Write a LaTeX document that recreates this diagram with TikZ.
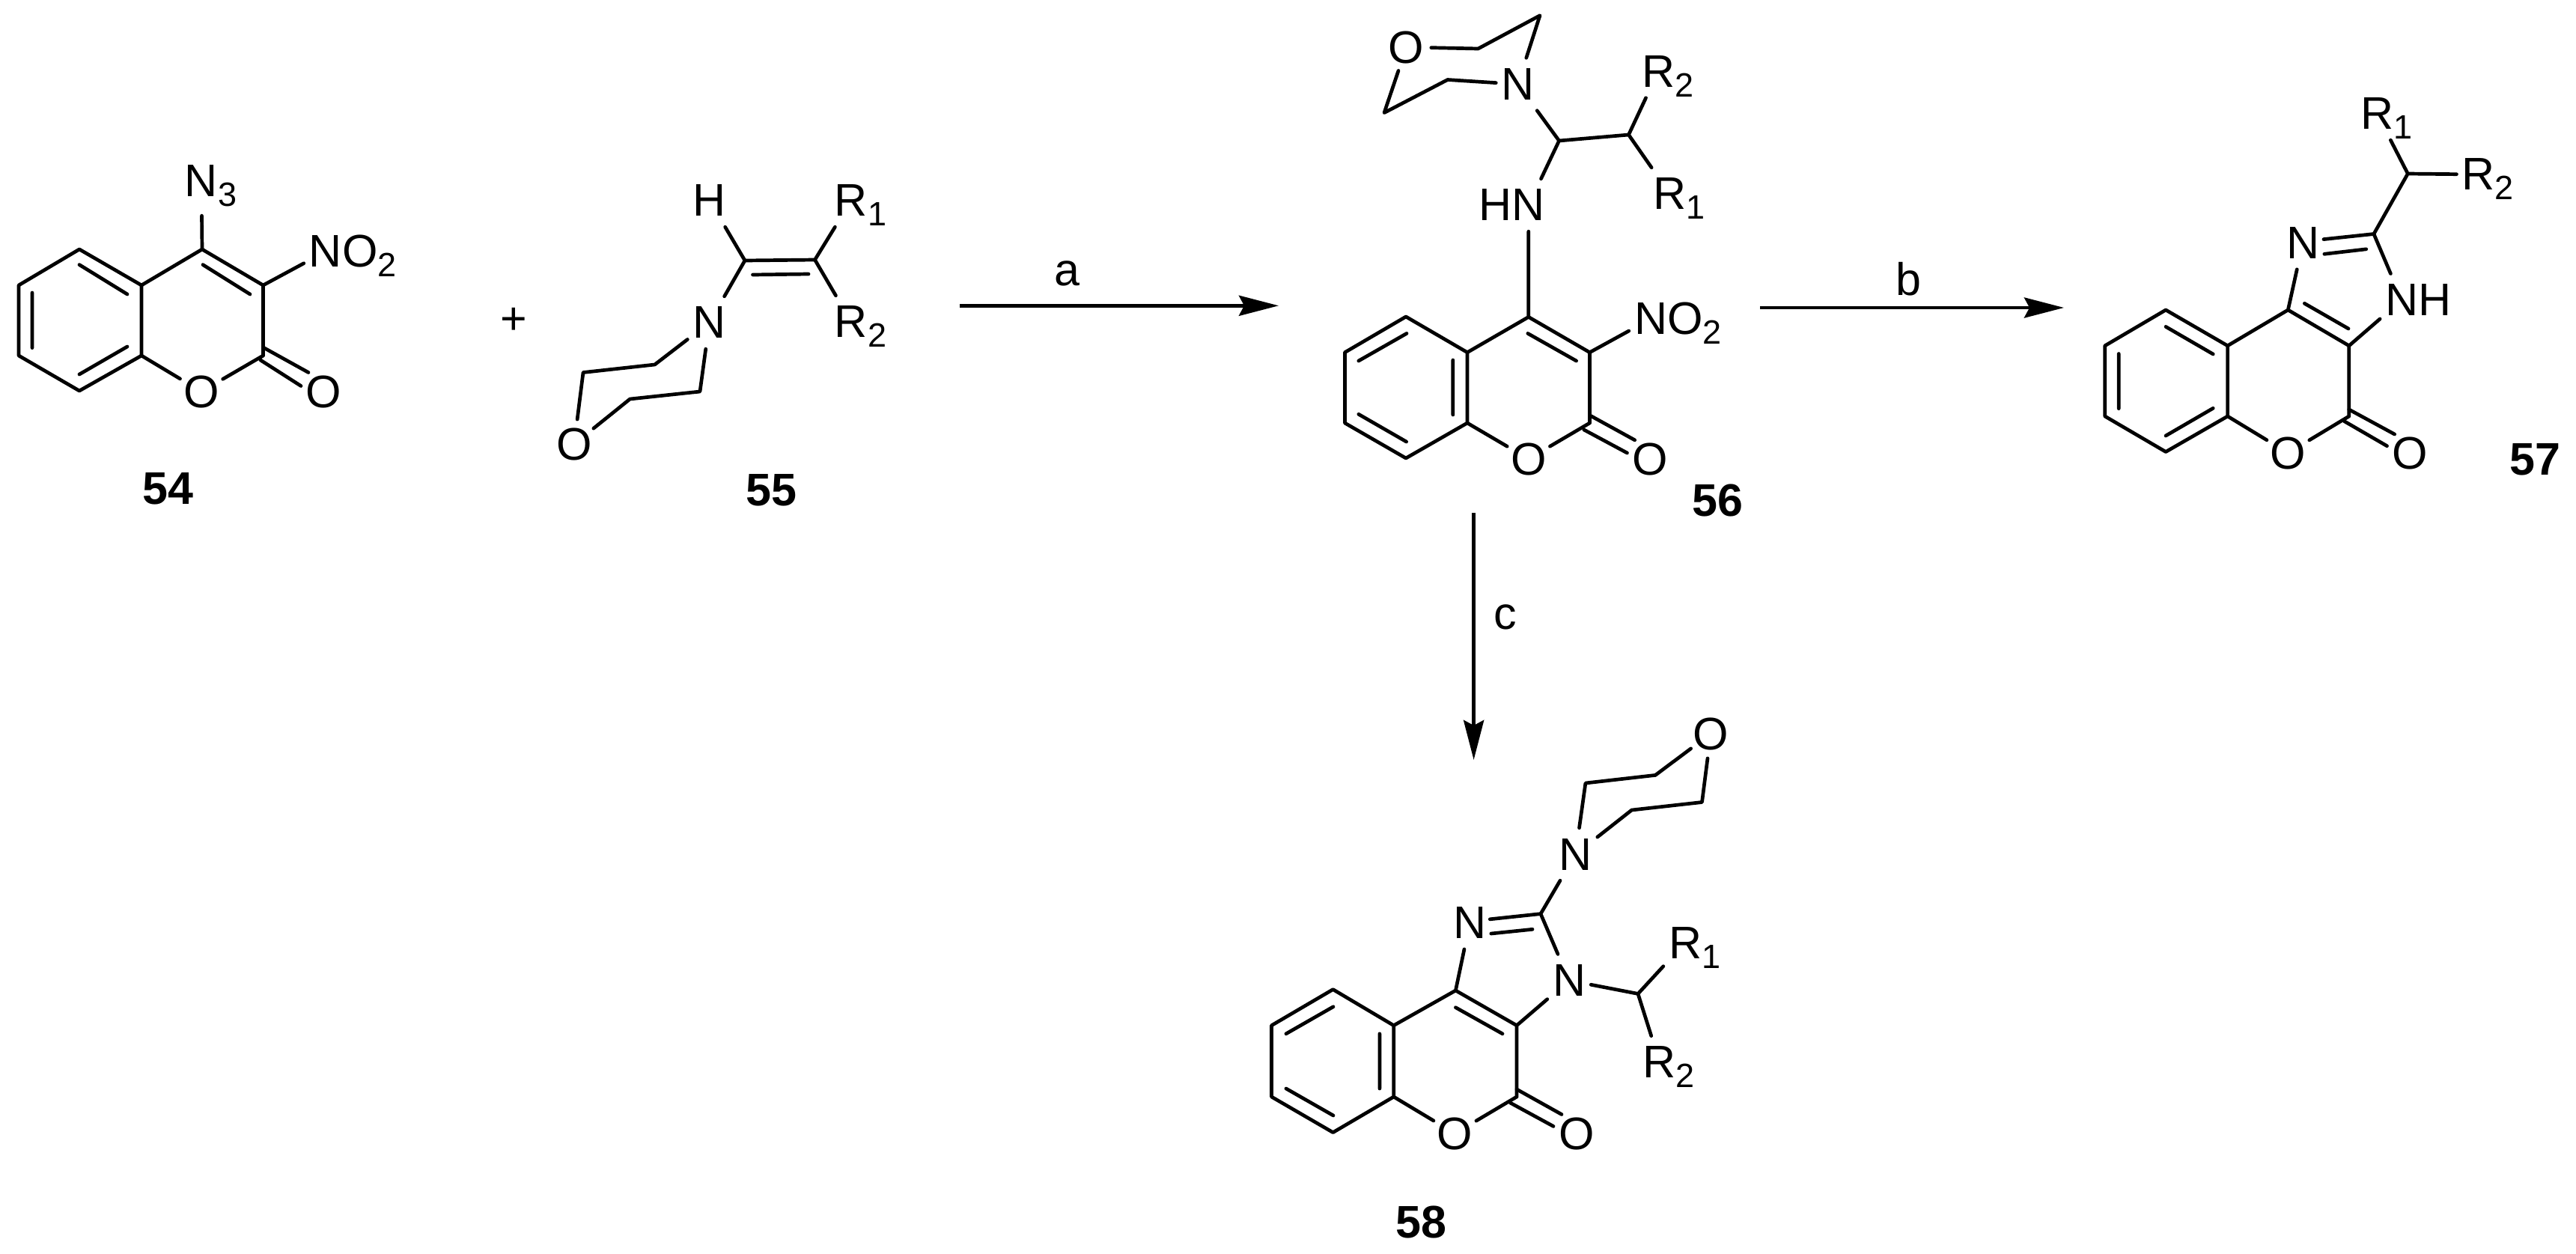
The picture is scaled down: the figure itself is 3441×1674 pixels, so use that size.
\documentclass[tikz,border=0pt]{standalone}
\usepackage{fontspec}
\setmainfont{Liberation Sans}
\usetikzlibrary{arrows.meta}
\newcommand\sbs[1]{\raisebox{-13pt}{\fontsize{45}{45}\selectfont #1}}
\newcommand\pnt[3]{\coordinate (#1) at (#2,#3);}
\tikzset{
  bond/.style={line width=4.7pt,line cap=round,line join=round,black},
  rxn/.style={line width=4.8pt,black,-{Stealth[length=53pt,width=27pt,inset=7pt]}},
  lab/.style={inner sep=0pt,font=\fontsize{61}{61}\selectfont},
  atomN/.style={lab,rectangle,minimum width=58pt,minimum height=70pt},
  atomO/.style={lab,circle,minimum size=66pt},
  cpd/.style={inner sep=0pt,font=\fontsize{61}{61}\selectfont\bfseries},
}
\begin{document}
\begin{tikzpicture}[x=1pt,y=-1pt]
\useasboundingbox (0,0) rectangle (3441,1674);
% ---------- 54
\pnt{a1}{106}{333}\pnt{a2}{25}{381}\pnt{a3}{25}{475}\pnt{a4}{106}{522}\pnt{a5}{189}{475}\pnt{a6}{189}{381}
\pnt{a7}{270}{333}\pnt{a8}{351.5}{381}\pnt{a9}{351.5}{475}
\node[atomO] (aO) at (269,523) {O};
\node[atomO] (aOx) at (432,523) {O};
\node[atomN,minimum height=92pt] (aN) at (269,242) {N\rlap{\smash{\sbs{3}}}};
\node[atomN] (aNO) at (435,336) {N\rlap{\smash{O\sbs{2}}}};
\pnt{ai1}{106}{353.6}\pnt{ai2}{170}{393}\pnt{ai3}{43}{391}\pnt{ai4}{43}{464.6}\pnt{ai5}{106}{500}\pnt{ai6}{170}{463}
\pnt{ai7}{271}{353.6}\pnt{ai8}{334}{393}\pnt{ax1}{351.5}{464}\pnt{ax2}{412}{497.5}\pnt{ax3}{348}{481}\pnt{ax4}{402}{515.5}
\draw[bond] (a1)--(a2)--(a3)--(a4)--(a5)--(a6)--cycle;
\draw[bond] (a6)--(a7)--(a8)--(a9);
\draw[bond] (a5)--(aO) (aO)--(a9) (a7)--(aN) (a8)--(aNO);
\draw[bond] (ai1)--(ai2) (ai3)--(ai4) (ai5)--(ai6) (ai7)--(ai8) (ax1)--(ax2) (ax3)--(ax4);
\node[cpd] (l54) at (224.5,652.5) {54};
\node[lab] (plus) at (686,429) {+};
% ---------- 55
\pnt{b1}{995}{348}\pnt{b2}{1088.5}{347}\pnt{bi1}{1005.5}{367}\pnt{bi2}{1080}{366}
\node[atomN] (bH) at (948,268) {H};
\node[atomN] (bR1) at (1137,268) {R\rlap{\smash{\sbs{1}}}};
\node[atomN] (bR2) at (1137,430) {R\rlap{\smash{\sbs{2}}}};
\node[atomN] (bN) at (947.5,431) {N};
\node[atomO] (bO) at (767,593) {O};
\pnt{b3}{874.6}{487}\pnt{b4}{779}{497.5}\pnt{b5}{841.5}{533}\pnt{b6}{935}{523}
\draw[bond] (bH)--(b1)--(b2)--(bR1) (b1)--(bN) (b2)--(bR2) (bi1)--(bi2);
\draw[bond] (bN)--(b3)--(b4)--(bO) (bO)--(b5)--(b6)--(bN);
\node[cpd] (l55) at (1030,655) {55};
% ---------- arrows
\pnt{ra1}{1282}{408.3}\pnt{ra2}{1708}{408.3}
\draw[rxn] (ra1)--(ra2);
\node[lab] (la) at (1425.5,365.5) {a};
\pnt{rb1}{2351}{411}\pnt{rb2}{2757}{411}
\draw[rxn] (rb1)--(rb2);
\node[lab] (lb) at (2549,372.5) {b};
\pnt{rc1}{1968.6}{685}\pnt{rc2}{1968.6}{1015}
\draw[rxn] (rc1)--(rc2);
\node[lab] (lc) at (2010.5,824.5) {c};
% ---------- 56
\pnt{c1}{1878}{423}\pnt{c2}{1796.4}{470.7}\pnt{c3}{1796.4}{565}\pnt{c4}{1878}{612}\pnt{c5}{1960}{565}\pnt{c6}{1960}{470.7}
\pnt{c7}{2041.8}{423.4}\pnt{c8}{2123.5}{470.7}\pnt{c9}{2123.5}{565}
\node[atomO] (cO) at (2041.8,613) {O};
\node[atomO] (cOx) at (2204,613) {O};
\node[atomN] (cNH) at (2041.8,274) {\llap{H}N};
\node[atomN] (cNO) at (2205,426) {N\rlap{\smash{O\sbs{2}}}};
\pnt{c10}{2082.6}{188}\pnt{c11}{2175.5}{180}
\node[atomN] (cN) at (2027.5,112.5) {N};
\node[atomN] (cR2) at (2215,95.5) {R\rlap{\smash{\sbs{2}}}};
\node[atomN] (cR1) at (2230.6,259) {R\rlap{\smash{\sbs{1}}}};
\node[atomO] (cOm) at (1878.6,63) {O};
\pnt{c12}{1974.5}{65}\pnt{c13}{2057}{20.7}\pnt{c14}{1933.7}{106.5}\pnt{c15}{1849}{150.6}
\pnt{ci1}{1814.8}{482}\pnt{ci2}{1879}{445.4}\pnt{ci3}{1814.8}{553.3}\pnt{ci4}{1878.6}{590}\pnt{ci5}{1940.8}{481}\pnt{ci6}{1940.8}{554}
\pnt{ci7}{2040.8}{445.4}\pnt{ci8}{2105.6}{482}\pnt{cx1}{2123.5}{554.7}\pnt{cx2}{2183.7}{587.8}\pnt{cx3}{2115.8}{574}\pnt{cx4}{2173.5}{605}
\draw[bond] (c1)--(c2)--(c3)--(c4)--(c5)--(c6)--cycle;
\draw[bond] (c6)--(c7)--(c8)--(c9) (c5)--(cO) (cO)--(c9) (c7)--(cNH) (c8)--(cNO);
\draw[bond] (cNH)--(c10)--(c11)--(cR2) (c11)--(cR1) (c10)--(cN);
\draw[bond] (cN)--(c13)--(c12)--(cOm) (cOm)--(c15)--(c14)--(cN);
\draw[bond] (ci1)--(ci2) (ci3)--(ci4) (ci5)--(ci6) (ci7)--(ci8) (cx1)--(cx2) (cx3)--(cx4);
\node[cpd] (l56) at (2294.4,668) {56};
% ---------- 57
\pnt{d1}{2893}{414}\pnt{d2}{2811.7}{461.8}\pnt{d3}{2811.7}{556}\pnt{d4}{2893}{603.5}\pnt{d5}{2975.6}{556}\pnt{d6}{2975.6}{461.8}
\pnt{d7}{3056.3}{414}\pnt{d8}{3137.8}{461.8}\pnt{d9}{3137.8}{556}\pnt{d10}{3170.9}{312.5}\pnt{d11}{3216.3}{232}
\node[atomO] (dO) at (3056.3,605) {O};
\node[atomO] (dOx) at (3219.4,605) {O};
\node[atomN] (dN) at (3076,324.6) {N};
\node[atomN] (dNH) at (3208.3,400.7) {N\rlap{H}};
\node[atomN] (dR2) at (3310.6,233) {R\rlap{\smash{\sbs{2}}}};
\node[atomN] (dR1) at (3175.3,152) {R\rlap{\smash{\sbs{1}}}};
\pnt{di1}{2893}{436.4}\pnt{di2}{2956.2}{473}\pnt{di3}{2830.2}{472.5}\pnt{di4}{2830.2}{545.7}\pnt{di5}{2893}{582}\pnt{di6}{2956.2}{545.3}
\pnt{di7}{3078.3}{405.3}\pnt{di8}{3137}{439}\pnt{dx1}{3137.8}{547}\pnt{dx2}{3198.6}{580}\pnt{dx3}{3131.2}{562.5}\pnt{dx4}{3188.5}{595.7}
\pnt{dd1}{3103.9}{319.6}\pnt{dd2}{3104.8}{339.3}\pnt{dd3}{3160.7}{332.8}
\draw[bond] (d1)--(d2)--(d3)--(d4)--(d5)--(d6)--cycle;
\draw[bond] (d6)--(d7)--(d8)--(d9) (d5)--(dO) (dO)--(d9) (d7)--(dN) (d8)--(dNH) (dNH)--(d10);
\draw[bond] (dd1)--(d10)--(d11)--(dR2) (d11)--(dR1) (dd2)--(dd3);
\draw[bond] (di1)--(di2) (di3)--(di4) (di5)--(di6) (di7)--(di8) (dx1)--(dx2) (dx3)--(dx4);
\node[cpd] (l57) at (3386.8,614) {57};
% ---------- 58
\pnt{e1}{1780.6}{1321.6}\pnt{e2}{1698.5}{1369.7}\pnt{e3}{1698.5}{1465}\pnt{e4}{1780.6}{1512.6}\pnt{e5}{1861.7}{1465}\pnt{e6}{1861.7}{1369.7}
\pnt{e7}{1944.4}{1323}\pnt{e8}{2026}{1369.7}\pnt{e9}{2026}{1465}\pnt{e10}{2058}{1220.6}\pnt{e11}{2188}{1327.4}
\node[atomO] (eO) at (1943.4,1514) {O};
\node[atomO] (eOx) at (2106.6,1514) {O};
\node[atomN] (eN3) at (1963.3,1232.7) {N};
\node[atomN] (eN1) at (2096,1309.6) {N};
\node[atomN] (eNm) at (2104.6,1141) {N};
\node[atomO] (eOm) at (2285.2,980) {O};
\node[atomN] (eR1) at (2251,1259) {R\rlap{\smash{\sbs{1}}}};
\node[atomN] (eR2) at (2216.8,1418.8) {R\rlap{\smash{\sbs{2}}}};
\pnt{e12}{2117.9}{1046}\pnt{e13}{2211.2}{1035.4}\pnt{e14}{2273.5}{1071.5}\pnt{e15}{2179.6}{1082}
\pnt{ed1}{1990.3}{1227.8}\pnt{ed2}{1991.8}{1247}\pnt{ed3}{2047}{1241.3}
\pnt{ei1}{1717.9}{1380.8}\pnt{ei2}{1781}{1344.7}\pnt{ei3}{1717.9}{1454}\pnt{ei4}{1781}{1490}\pnt{ei5}{1842.9}{1380.8}\pnt{ei6}{1842.9}{1454}
\pnt{ei7}{1944.4}{1345.7}\pnt{ei8}{2007}{1380.8}\pnt{ex1}{2026}{1455}\pnt{ex2}{2086}{1488.5}\pnt{ex3}{2017.3}{1473}\pnt{ex4}{2075}{1504.4}
\draw[bond] (e1)--(e2)--(e3)--(e4)--(e5)--(e6)--cycle;
\draw[bond] (e6)--(e7)--(e8)--(e9) (e5)--(eO) (eO)--(e9) (e7)--(eN3) (e8)--(eN1) (eN1)--(e10) (e10)--(eNm);
\draw[bond] (ed1)--(e10) (ed2)--(ed3) (eN1)--(e11)--(eR1) (e11)--(eR2);
\draw[bond] (eNm)--(e12)--(e13)--(eOm) (eOm)--(e14)--(e15)--(eNm);
\draw[bond] (ei1)--(ei2) (ei3)--(ei4) (ei5)--(ei6) (ei7)--(ei8) (ex1)--(ex2) (ex3)--(ex4);
\node[cpd] (l58) at (1898.5,1632) {58};
\end{tikzpicture}
\end{document}
